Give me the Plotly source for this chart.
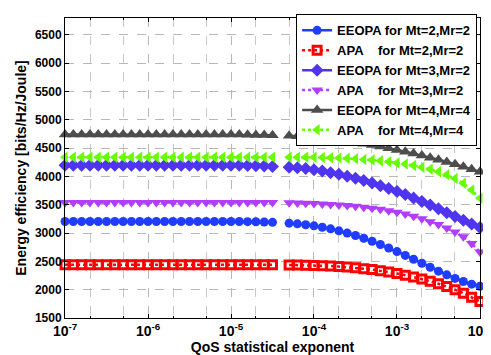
import plotly.graph_objects as go

# x positions: 10^-7 ... 10^-2 at 0.1-decade steps (one sample missing near 4e-5)
log_exponents = [-7.0, -6.9, -6.8, -6.7, -6.6, -6.5, -6.4, -6.3, -6.2, -6.1,
                 -6.0, -5.9, -5.8, -5.7, -5.6, -5.5, -5.4, -5.3, -5.2, -5.1,
                 -5.0, -4.9, -4.8, -4.7, -4.6, -4.5, -4.4, -4.3, -4.2, -4.1,
                 -4.0, -3.9, -3.8, -3.7, -3.6, -3.5, -3.4, -3.3, -3.2, -3.1,
                 -3.0, -2.9, -2.8, -2.7, -2.6, -2.5, -2.4, -2.3, -2.2, -2.1, -2.0]
qos = [10 ** e for e in log_exponents]

x_tick_vals = [1e-7, 1e-6, 1e-5, 1e-4, 1e-3, 1e-2]
x_tick_text = ["10<sup>-7</sup>", "10<sup>-6</sup>", "10<sup>-5</sup>",
               "10<sup>-4</sup>", "10<sup>-3</sup>", "10<sup>-2</sup>"]
y_tick_vals = [1500, 2000, 2500, 3000, 3500, 4000, 4500, 5000, 5500, 6000, 6500]

F = None  # missing sample

eeopa_22 = [3205] * 21 + [3204, 3202, 3200, 3196, 3190, F, 3175, 3163, 3148,
                          3128, 3104, 3075, 3040, 3000, 2957, 2908, 2855, 2798, 2737,
                          2673, 2606, 2537, 2467, 2397, 2328, 2262, 2200, 2145, 2098, 2060]
apa_22 = [2440] * 21 + [2440, 2440, 2440, 2440, 2440, F, 2438, 2436, 2433,
                        2429, 2424, 2417, 2409, 2399, 2387, 2372, 2355, 2335, 2312,
                        2286, 2257, 2225, 2190, 2150, 2105, 2055, 2000, 1938, 1868, 1790]
eeopa_32 = [4200] * 21 + [4198, 4195, 4190, 4184, 4177, F, 4165, 4155, 4140,
                          4120, 4095, 4068, 4038, 4005, 3968, 3928, 3885, 3838, 3788,
                          3735, 3680, 3622, 3560, 3495, 3428, 3360, 3292, 3225, 3160, 3100]
apa_32 = [3540] * 21 + [3540, 3540, 3540, 3540, 3540, F, 3535, 3532, 3528,
                        3522, 3515, 3507, 3497, 3486, 3473, 3458, 3440, 3420, 3396,
                        3368, 3336, 3298, 3254, 3202, 3150, 3090, 3020, 2935, 2815, 2665]
eeopa_44 = [4740] * 21 + [4740, 4738, 4735, 4732, 4728, F, 4718, 4710, 4702,
                          4690, 4677, 4662, 4645, 4625, 4603, 4580, 4555, 4528, 4500,
                          4470, 4438, 4405, 4370, 4333, 4295, 4255, 4215, 4173, 4130, 4085]
apa_44 = [4340] * 21 + [4340, 4340, 4340, 4340, 4340, F, 4340, 4340, 4340,
                        4340, 4336, 4332, 4327, 4320, 4312, 4302, 4290, 4276, 4260,
                        4240, 4220, 4195, 4165, 4128, 4082, 4030, 3965, 3880, 3760, 3615]

NB = "\u00a0"
names = [
    "EEOPA for Mt=2,Mr=2",
    "APA" + NB * 4 + "for Mt=2,Mr=2",
    "EEOPA for Mt=3,Mr=2",
    "APA" + NB * 4 + "for Mt=3,Mr=2",
    "EEOPA for Mt=4,Mr=4",
    "APA" + NB * 4 + "for Mt=4,Mr=4",
]
series = [eeopa_22, apa_22, eeopa_32, apa_32, eeopa_44, apa_44]
colors = ["#1f3cff", "#ff0000", "#5035f0", "#b23cff", "#4d4d4d", "#66ff00"]
symbols = ["circle", "square-open", "diamond", "triangle-down", "triangle-up", "triangle-left"]
dashes = ["solid", "dot", "solid", "dot", "solid", "dot"]
sizes = [9, 8, 10, 10, 11, 10]

fig = go.Figure()
for nm, ys, c, s, d, sz in zip(names, series, colors, symbols, dashes, sizes):
    marker = dict(symbol=s, size=sz, color=c)
    if s == "square-open":
        marker["line"] = dict(color=c, width=3)
    else:
        marker["line"] = dict(color=c, width=0)
    fig.add_trace(go.Scatter(x=qos, y=ys, name=nm, mode="lines+markers",
                             line=dict(color=c, width=2.5, dash=d),
                             marker=marker, connectgaps=False, cliponaxis=False))

grid = dict(showgrid=True, gridcolor="#b8b8b8", gridwidth=1, griddash="dash")
fig.update_layout(
    width=491, height=355,
    margin=dict(l=57, r=13, t=6, b=45),
    paper_bgcolor="white", plot_bgcolor="white",
    font=dict(family="Liberation Sans, Arial, sans-serif", color="black", size=12),
    showlegend=True,
    legend=dict(x=0.993, y=1.012, xanchor="right", yanchor="top",
                bgcolor="white", bordercolor="black", borderwidth=1,
                font=dict(size=13, weight="bold", family="Liberation Sans, Arial, sans-serif"),
                tracegroupgap=0, itemwidth=30),
    xaxis=dict(type="log", range=[-7.0005, -1.9995], tickvals=x_tick_vals, ticktext=x_tick_text,
               showline=True, linecolor="black", linewidth=1, mirror="ticks",
               ticks="inside", ticklen=4, tickcolor="black",
               tickfont=dict(size=14, weight="bold"),
               title=dict(text="QoS statistical exponent", font=dict(size=14, weight="bold"), standoff=0),
               zeroline=False,
               minor=dict(showgrid=True, gridcolor="#c8c8c8", griddash="dash", ticks="inside", ticklen=2,
                          tickcolor="black"),
               **grid),
    yaxis=dict(range=[1500, 6800], tickvals=y_tick_vals,
               showline=True, linecolor="black", linewidth=1, mirror="ticks",
               ticks="inside", ticklen=4, tickcolor="black",
               tickfont=dict(size=12, weight="bold"),
               title=dict(text="Energy efficiency [bits/Hz/Joule]", font=dict(size=14, weight="bold"), standoff=4),
               zeroline=False,
               **grid),
)

fig.write_html("out.html")
